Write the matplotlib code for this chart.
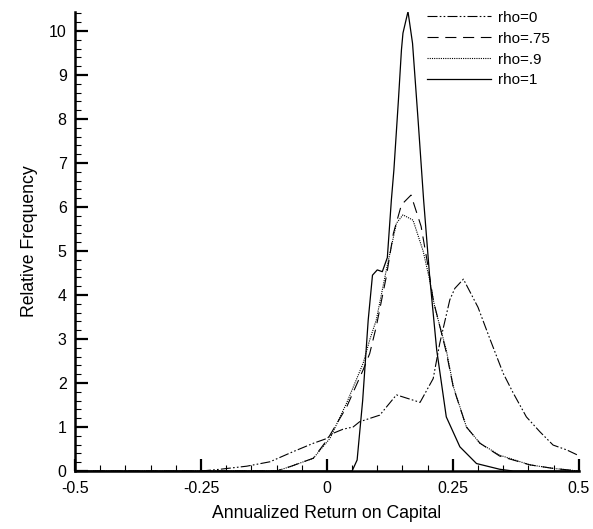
import numpy as np
import matplotlib.pyplot as plt
from matplotlib.ticker import MultipleLocator

plt.rcParams['font.family'] = ['Liberation Sans', 'DejaVu Sans']
plt.rcParams['axes.unicode_minus'] = False

# --- data ---
x_rho0 = [-0.25, -0.212, -0.159, -0.113, -0.067, -0.027, 0.0, 0.013, 0.032, 0.052, 0.065,
          0.105, 0.138, 0.185, 0.211, 0.224, 0.244, 0.254, 0.271, 0.300, 0.323, 0.350,
          0.370, 0.396, 0.423, 0.449, 0.476, 0.5]
y_rho0 = [0.0, 0.04, 0.11, 0.21, 0.44, 0.63, 0.74, 0.86, 0.95, 1.0, 1.12,
          1.27, 1.73, 1.56, 2.1, 2.9, 3.89, 4.15, 4.36, 3.72, 3.02, 2.22,
          1.77, 1.23, 0.89, 0.59, 0.48, 0.35]

x_rho75 = [-0.5, -0.10, -0.073, -0.027, 0.0, 0.039, 0.072, 0.085, 0.098, 0.118, 0.132,
           0.148, 0.167, 0.187, 0.201, 0.211, 0.237, 0.251, 0.277, 0.304, 0.343,
           0.403, 0.449, 0.5]
y_rho75 = [0.0, 0.0, 0.1, 0.29, 0.7, 1.45, 2.3, 2.67, 3.28, 4.42, 5.4,
           6.05, 6.27, 5.56, 4.64, 3.89, 2.7, 1.9, 1.0, 0.63, 0.34,
           0.14, 0.06, 0.0]

x_rho9 = [-0.5, -0.10, -0.073, -0.027, 0.006, 0.039, 0.072, 0.085, 0.098, 0.118, 0.138,
          0.151, 0.171, 0.191, 0.204, 0.214, 0.237, 0.251, 0.277, 0.304, 0.343,
          0.403, 0.449, 0.5]
y_rho9 = [0.0, 0.0, 0.1, 0.29, 0.74, 1.54, 2.45, 2.98, 3.43, 4.57, 5.63,
          5.82, 5.7, 5.0, 4.34, 3.73, 2.75, 1.92, 1.0, 0.63, 0.36,
          0.14, 0.06, 0.0]

x_rho1 = [-0.5, 0.05, 0.06, 0.071, 0.082, 0.0905, 0.10, 0.11, 0.12, 0.128, 0.133,
          0.142, 0.148, 0.151, 0.161, 0.170, 0.181, 0.192, 0.204, 0.218, 0.237,
          0.264, 0.297, 0.343, 0.37, 0.5]
y_rho1 = [0.0, 0.0, 0.25, 1.6, 3.43, 4.45, 4.57, 4.53, 4.85, 6.16, 6.84,
          8.43, 9.57, 9.95, 10.44, 9.72, 7.98, 6.16, 4.42, 2.75, 1.23,
          0.55, 0.17, 0.04, 0.0, 0.0]

labels = ['rho=0', 'rho=.75', 'rho=.9', 'rho=1']

fig = plt.figure(figsize=(5.93, 5.29), dpi=100)
ax = fig.add_axes([0.1265, 0.1096, 0.8495, 0.8677])

ax.plot(x_rho0, y_rho0, color='black', lw=0.8, ls=(0, (9, 2, 1.5, 2, 1.5, 2)), label=labels[0])
ax.plot(x_rho75, y_rho75, color='black', lw=0.8, ls=(0, (10, 6)), label=labels[1])
ax.plot(x_rho9, y_rho9, color='black', lw=0.8, ls=(0, (1, 1)), label=labels[2])
ax.plot(x_rho1, y_rho1, color='black', lw=0.9, ls='-', label=labels[3])

ax.set_xlim(-0.5, 0.5)
ax.set_ylim(0, 10.43)
ax.set_xticks([-0.5, -0.25, 0, 0.25, 0.5])
ax.set_xticklabels(['-0.5', '-0.25', '0', '0.25', '0.5'])
ax.set_yticks(np.arange(0, 11, 1))
ax.xaxis.set_minor_locator(MultipleLocator(0.05))
ax.yaxis.set_minor_locator(MultipleLocator(0.2))

ax.spines['top'].set_visible(False)
ax.spines['right'].set_visible(False)
ax.spines['left'].set_linewidth(1.8)
ax.spines['bottom'].set_linewidth(1.8)
ax.tick_params(which='major', direction='in', length=9, width=1.6, labelsize=11.5)
ax.tick_params(axis='x', which='major', pad=7)
ax.tick_params(axis='y', which='major', pad=6)
ax.tick_params(which='minor', direction='in', length=4.5, width=0.8)

ax.set_xlabel('Annualized Return on Capital', fontsize=12.7, labelpad=7)
ax.set_ylabel('Relative Frequency', fontsize=12.7, labelpad=8)

ax.legend(loc='upper left', bbox_to_anchor=(0.686, 1.016), frameon=False, fontsize=11,
          handlelength=4.2, handletextpad=0.45, labelspacing=0.45, borderaxespad=0)

fig.savefig('out.png', dpi=100)
